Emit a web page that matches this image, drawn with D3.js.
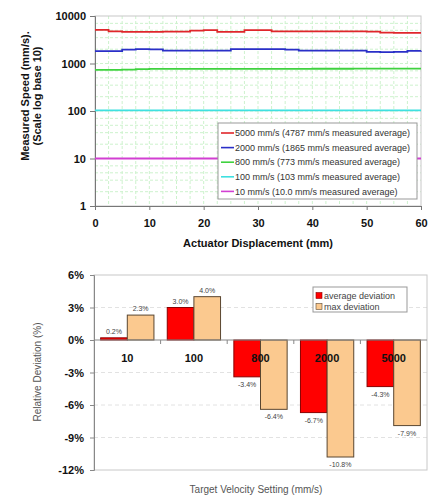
<!DOCTYPE html>
<html>
<head>
<meta charset="utf-8">
<script src="https://cdn.jsdelivr.net/npm/d3@7"></script>
<style>
  html, body { margin: 0; padding: 0; background: #fff; }
  svg { display: block; font-family: "Liberation Sans", Arial, sans-serif; }
</style>
</head>
<body>
<svg id="chart" width="428" height="499"></svg>
<script>
// ---- Speed vs. displacement (log scale) ----
const displacement = [0, 2.5, 5, 7.5, 10, 12.5, 15, 17.5, 20, 22.5, 25, 27.5, 30,
  32.5, 35, 37.5, 40, 42.5, 45, 47.5, 50, 52.5, 55, 57.5, 60];
const speed5000 = [5100, 4750, 4650, 4650, 4650, 4700, 4700, 4900, 5050, 4650, 4650, 5050, 5050,
  4750, 4750, 4750, 4750, 4750, 4750, 4750, 4700, 4450, 4400, 4400, 4400];
const speed2000 = [1830, 1830, 1950, 2000, 1990, 1870, 1860, 1860, 1860, 1860, 2000, 2010, 2010,
  2010, 1960, 1870, 1860, 1860, 1860, 1860, 1760, 1740, 1760, 1840, 1850];
const speed800 = [735, 735, 740, 765, 768, 768, 770, 770, 770, 770, 772, 772, 772,
  772, 774, 774, 775, 776, 776, 778, 778, 778, 780, 780, 780];
const speed100 = [103, 103, 103, 103, 103, 103, 103, 103, 103, 103, 103, 103, 103,
  103, 103, 103, 103, 103, 103, 103, 103, 103, 103, 103, 103];
const speed10 = [10, 10, 10, 10, 10, 10, 10, 10, 10, 10, 10, 10, 10,
  10, 10, 10, 10, 10, 10, 10, 10, 10, 10, 10, 10];
const seriesLabels = [
  "5000 mm/s (4787 mm/s measured average)",
  "2000 mm/s (1865 mm/s measured average)",
  "800 mm/s (773 mm/s measured average)",
  "100 mm/s (103 mm/s measured average)",
  "10 mm/s (10.0 mm/s measured average)"
];
const seriesColors = ["#e0262b", "#2a2fc8", "#3fd23f", "#3fe0e0", "#d23fd2"];
const speedTicks = [1, 10, 100, 1000, 10000];
const displacementTicks = [0, 10, 20, 30, 40, 50, 60];

// ---- Relative deviation bars ----
const velocitySettings = ["10", "100", "800", "2000", "5000"];
const averageDeviation = [0.2, 3.0, -3.4, -6.7, -4.3];
const maxDeviation = [2.3, 4.0, -6.4, -10.8, -7.9];
const deviationTicks = [6, 3, 0, -3, -6, -9, -12];
const barSeries = ["average deviation", "max deviation"];
const barColors = ["#ff0000", "#fbc98f"];
const barStrokes = ["#8a0000", "#5a4630"];

const svg = d3.select("#chart");

// ===================== Top chart =====================
const speedBox = { left: 95, right: 421, top: 16, bottom: 206 };
const x1 = d3.scaleLinear().domain([0, 60]).range([speedBox.left, speedBox.right]);
const y1 = d3.scaleLog().domain([1, 10000]).range([speedBox.bottom, speedBox.top]);

const g1 = svg.append("g");

// light green dashed grid
const vGrid = d3.range(2.5, 60, 2.5);
g1.selectAll(".vg").data(vGrid).join("line")
  .attr("x1", d => x1(d)).attr("x2", d => x1(d))
  .attr("y1", speedBox.top).attr("y2", speedBox.bottom)
  .attr("stroke", "#cdf2cd").attr("stroke-width", 1)
  .attr("stroke-dasharray", "3,2");
const hGrid = [];
[1, 10, 100, 1000].forEach(dec => [2, 3.5, 5, 7].forEach(m => hGrid.push(dec * m)));
speedTicks.slice(1, -1).forEach(v => hGrid.push(v));
g1.selectAll(".hg").data(hGrid).join("line")
  .attr("x1", speedBox.left).attr("x2", speedBox.right)
  .attr("y1", d => y1(d)).attr("y2", d => y1(d))
  .attr("stroke", "#cdf2cd").attr("stroke-width", 1)
  .attr("stroke-dasharray", "3,2");

// plot frame
g1.append("rect")
  .attr("x", speedBox.left).attr("y", speedBox.top)
  .attr("width", speedBox.right - speedBox.left).attr("height", speedBox.bottom - speedBox.top)
  .attr("fill", "none").attr("stroke", "#c8c8c8");

// axes
const yAxis1 = d3.axisLeft(y1).tickValues(speedTicks).tickFormat(d3.format("d")).tickSize(5).tickPadding(4);
const ay1 = g1.append("g").attr("transform", `translate(${speedBox.left},0)`).call(yAxis1);
const xAxis1 = d3.axisBottom(x1).tickValues(displacementTicks).tickSize(4).tickPadding(9);
const ax1 = g1.append("g").attr("transform", `translate(0,${speedBox.bottom})`).call(xAxis1);
[ay1, ax1].forEach(a => {
  a.select(".domain").attr("stroke", "#777");
  a.selectAll(".tick line").attr("stroke", "#777");
  a.selectAll(".tick text").attr("fill", "#111").attr("font-size", 11).attr("font-weight", "bold");
});

// series lines
const allSeries = [speed5000, speed2000, speed800, speed100, speed10];
const line1 = d3.line().x((d, i) => x1(displacement[i])).y(d => y1(d)).curve(d3.curveStepAfter);
g1.selectAll(".series").data(allSeries).join("path")
  .attr("d", d => line1(d))
  .attr("fill", "none")
  .attr("stroke", (d, i) => seriesColors[i])
  .attr("stroke-width", 1.8);

// legend
const lg1 = g1.append("g");
lg1.append("rect").attr("x", 218).attr("y", 123).attr("width", 199).attr("height", 76)
  .attr("fill", "#fff").attr("stroke", "#999");
seriesLabels.forEach((t, i) => {
  const yy = 133 + i * 14.6;
  lg1.append("line").attr("x1", 221).attr("x2", 234).attr("y1", yy).attr("y2", yy)
    .attr("stroke", seriesColors[i]).attr("stroke-width", 1.6);
  lg1.append("text").attr("x", 235).attr("y", yy + 3.2).text(t)
    .attr("font-size", 9).attr("fill", "#333");
});

// axis titles
svg.append("text")
  .attr("transform", "translate(29,96) rotate(-90)")
  .attr("text-anchor", "middle").attr("font-size", 11).attr("font-weight", "bold").attr("fill", "#111")
  .text("Measured Speed (mm/s).");
svg.append("text")
  .attr("transform", "translate(41,96) rotate(-90)")
  .attr("text-anchor", "middle").attr("font-size", 11).attr("font-weight", "bold").attr("fill", "#111")
  .text("(Scale log base 10)");
svg.append("text")
  .attr("x", 258).attr("y", 247)
  .attr("text-anchor", "middle").attr("font-size", 11).attr("font-weight", "bold").attr("fill", "#111")
  .text("Actuator Displacement (mm)");

// ===================== Bottom chart =====================
const devBox = { left: 94, right: 427, top: 275, bottom: 470 };
const x2 = d3.scaleBand().domain(velocitySettings).range([devBox.left, devBox.right]).paddingInner(0).paddingOuter(0);
const xs = d3.scaleBand().domain(barSeries).range([0, x2.bandwidth()]).paddingInner(0).paddingOuter(0.25);
const y2 = d3.scaleLinear().domain([-12, 6]).range([devBox.bottom, devBox.top]);
const fmtPct = d => d.toFixed(1) + "%";

const g2 = svg.append("g");

// dashed gridlines
g2.selectAll(".bg").data(deviationTicks.filter(d => d !== 0 && d !== 6 && d !== -12)).join("line")
  .attr("x1", devBox.left).attr("x2", devBox.right)
  .attr("y1", d => y2(d)).attr("y2", d => y2(d))
  .attr("stroke", "#e2e2e2").attr("stroke-dasharray", "4,3");

// frame
g2.append("rect")
  .attr("x", devBox.left).attr("y", devBox.top)
  .attr("width", devBox.right - devBox.left).attr("height", devBox.bottom - devBox.top)
  .attr("fill", "none").attr("stroke", "#c8c8c8");

// bars
const barData = velocitySettings.map((c, i) => [
  { cat: c, key: barSeries[0], v: averageDeviation[i], s: 0 },
  { cat: c, key: barSeries[1], v: maxDeviation[i], s: 1 }
]).flat();

g2.selectAll(".bar").data(barData).join("rect")
  .attr("x", d => x2(d.cat) + xs(d.key))
  .attr("width", xs.bandwidth())
  .attr("y", d => y2(Math.max(0, d.v)))
  .attr("height", d => Math.abs(y2(d.v) - y2(0)))
  .attr("fill", d => barColors[d.s])
  .attr("stroke", d => barStrokes[d.s]).attr("stroke-width", 1);

// value labels
g2.selectAll(".vl").data(barData).join("text")
  .attr("x", d => x2(d.cat) + xs(d.key) + xs.bandwidth() / 2)
  .attr("y", d => d.v >= 0 ? y2(d.v) - 4 : y2(d.v) + 10)
  .attr("text-anchor", "middle").attr("font-size", 7).attr("fill", "#444")
  .text(d => fmtPct(d.v));

// y axis
const yAxis2 = d3.axisLeft(y2).tickValues(deviationTicks).tickFormat(d => d + "%").tickSize(4).tickPadding(6);
const ay2 = g2.append("g").attr("transform", `translate(${devBox.left},0)`).call(yAxis2);
ay2.select(".domain").attr("stroke", "#888");
ay2.selectAll(".tick line").attr("stroke", "#888");
ay2.selectAll(".tick text").attr("fill", "#111").attr("font-size", 11).attr("font-weight", "bold");

// zero line with category separators
g2.append("line").attr("x1", devBox.left).attr("x2", devBox.right)
  .attr("y1", y2(0)).attr("y2", y2(0)).attr("stroke", "#888");
g2.selectAll(".ct").data(velocitySettings.slice(1)).join("line")
  .attr("x1", d => x2(d)).attr("x2", d => x2(d))
  .attr("y1", y2(0)).attr("y2", y2(0) + 4).attr("stroke", "#888");
g2.selectAll(".cl").data(velocitySettings).join("text")
  .attr("x", d => x2(d) + x2.bandwidth() / 2)
  .attr("y", y2(0) + 22)
  .attr("text-anchor", "middle").attr("font-size", 11).attr("font-weight", "bold").attr("fill", "#111")
  .text(d => d);

// legend
const lg2 = g2.append("g");
lg2.append("rect").attr("x", 313).attr("y", 287).attr("width", 94).attr("height", 25)
  .attr("fill", "#fff").attr("stroke", "#999");
barSeries.forEach((t, i) => {
  const yy = 296 + i * 11;
  lg2.append("rect").attr("x", 316).attr("y", yy - 3.5).attr("width", 6).attr("height", 6)
    .attr("fill", barColors[i]).attr("stroke", barStrokes[i]).attr("stroke-width", 0.6);
  lg2.append("text").attr("x", 324).attr("y", yy + 3).text(t)
    .attr("font-size", 9).attr("fill", "#444");
});

// axis titles
svg.append("text")
  .attr("transform", "translate(41,372) rotate(-90)")
  .attr("text-anchor", "middle").attr("font-size", 10).attr("fill", "#555")
  .text("Relative Deviation (%)");
svg.append("text")
  .attr("x", 256).attr("y", 493)
  .attr("text-anchor", "middle").attr("font-size", 10).attr("fill", "#555")
  .text("Target Velocity Setting (mm/s)");
</script>
</body>
</html>
